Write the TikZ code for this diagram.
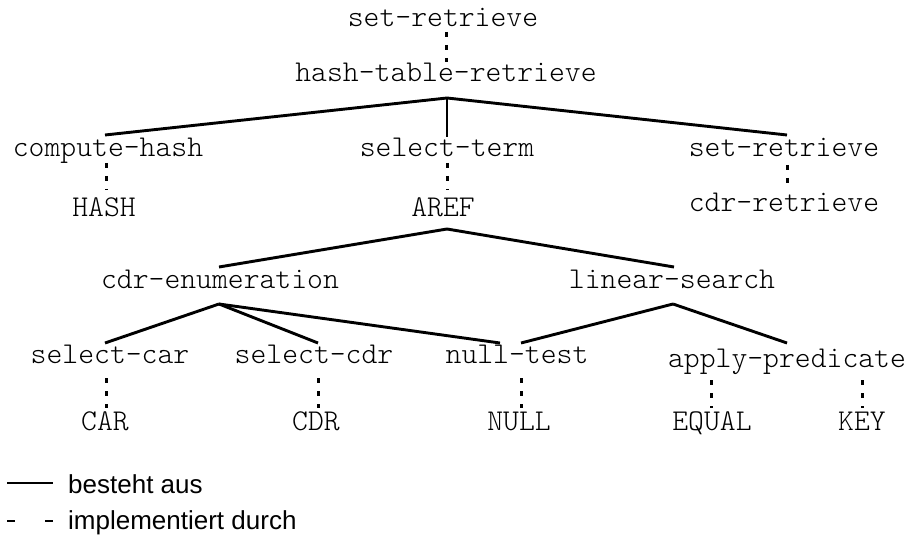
\documentclass[tikz,border=0pt]{standalone}
\usepackage{fontspec}
\setmainfont{Liberation Sans}
\newfontfamily\codefont{Latin Modern Mono Light}
\usetikzlibrary{calc}

\tikzset{
  term/.style={inner sep=0pt, anchor=base, font=\codefont\fontsize{30.2}{34}\selectfont},
  legendtext/.style={inner sep=0pt, anchor=base west, font=\fontsize{26}{30}\selectfont},
  consists/.style={line width=2.9pt, line cap=butt},
  impl/.style={line width=3pt, dash pattern=on 5pt off 8pt},
  legendsolid/.style={line width=1.2pt},
  legenddash/.style={line width=1.2pt, dash pattern=on 8pt off 30pt},
}

\begin{document}
\begin{tikzpicture}[x=1pt,y=-1pt]
\useasboundingbox (0,0) rectangle (909,537);

% terms of the decomposition tree
\node[term] (srt)  at (443,27)  {set-retrieve};
\node[term] (htr)  at (446,82)  {hash-table-retrieve};
\node[term] (ch)   at (108,157) {compute-hash};
\node[term] (st)   at (447,157) {select-term};
\node[term] (sr)   at (784,157) {set-retrieve};
\node[term] (hash) at (104,217) {HASH};
\node[term] (aref) at (443,217) {AREF};
\node[term] (cr)   at (784,212) {cdr-retrieve};
\node[term] (ce)   at (220,288) {cdr-enumeration};
\node[term] (ls)   at (672,288) {linear-search};
\node[term] (sca)  at (110,363) {select-car};
\node[term] (scd)  at (314,363) {select-cdr};
\node[term] (nt)   at (517,363) {null-test};
\node[term] (ap)   at (787,367) {apply-predicate};
\node[term] (car)  at (105,430) {CAR};
\node[term] (cdr)  at (316,430) {CDR};
\node[term] (null) at (519,430) {NULL};
\node[term] (eq)   at (712,430) {EQUAL};
\node[term] (key)  at (862,430) {KEY};

% "besteht aus" edges
\draw[consists] ($(htr.base)+(1,16)$) -- ($(ch.base)+(-3,-22)$);
\draw[consists] ($(htr.base)+(1,16)$) -- ($(st.base)+(0,-20)$);
\draw[consists] ($(htr.base)+(1,16)$) -- ($(sr.base)+(3,-22)$);
\draw[consists] ($(aref.base)+(4,12)$) -- ($(ce.base)+(-1,-21)$);
\draw[consists] ($(aref.base)+(4,12)$) -- ($(ls.base)+(2,-21)$);
\draw[consists] ($(ce.base)+(-1,16)$) -- ($(sca.base)+(-5,-20)$);
\draw[consists] ($(ce.base)+(-1,16)$) -- ($(scd.base)+(4,-20)$);
\draw[consists] ($(ce.base)+(-1,16)$) -- ($(nt.base)+(-17,-20)$);
\draw[consists] ($(ls.base)+(1,16)$) -- ($(nt.base)+(4,-20)$);
\draw[consists] ($(ls.base)+(1,16)$) -- ($(ap.base)+(0,-24)$);

% "implementiert durch" edges
\draw[impl] ($(srt.base)+(3,5)$) -- ($(htr.base)+(0,-20)$);
\draw[impl] ($(ch.base)+(-2,6)$) -- ($(hash.base)+(2,-27)$);
\draw[impl] ($(st.base)+(0,6)$) -- ($(aref.base)+(4,-27)$);
\draw[impl] ($(sr.base)+(3,8)$) -- ($(cr.base)+(3,-23)$);
\draw[impl] ($(sca.base)+(-4,15)$) -- ($(car.base)+(1,-22)$);
\draw[impl] ($(scd.base)+(4,15)$) -- ($(cdr.base)+(2,-22)$);
\draw[impl] ($(nt.base)+(4,15)$) -- ($(null.base)+(2,-22)$);
\draw[impl] ($(ap.base -| eq.base)+(-1,13)$) -- ($(eq.base)+(-1,-22)$);
\draw[impl] ($(ap.base -| key.base)+(0,13)$) -- ($(key.base)+(0,-22)$);

% legend
\coordinate (ls1) at (7,483);
\coordinate (ls2) at (53,483);
\coordinate (ld1) at (7,521);
\coordinate (ld2) at (53,521);
\draw[legendsolid] (ls1) -- (ls2);
\draw[legenddash] (ld1) -- (ld2);
\node[legendtext] (lsol) at (68,493) {besteht aus};
\node[legendtext] (ldash) at (68,529) {implementiert durch};
\end{tikzpicture}
\end{document}
